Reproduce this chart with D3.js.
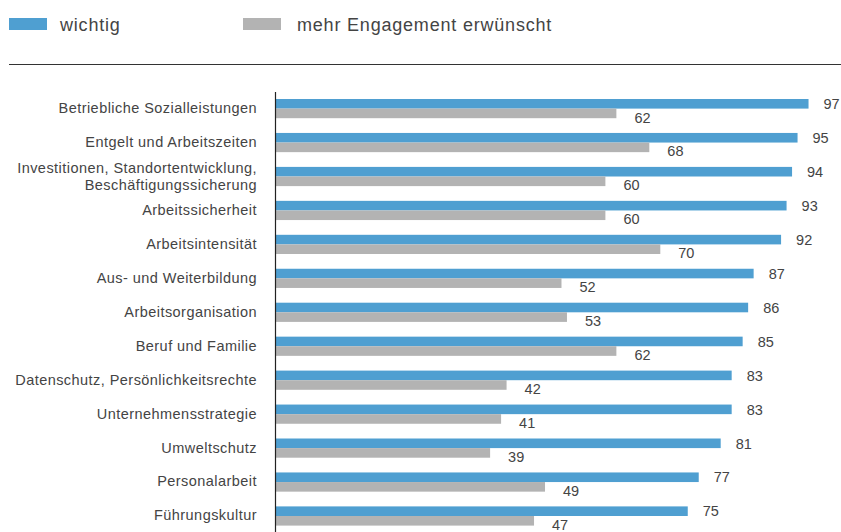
<!DOCTYPE html>
<html>
<head>
<meta charset="utf-8">
<script src="https://cdn.jsdelivr.net/npm/d3@7"></script>
<style>
  body { margin: 0; background: #fff; }
  svg text { font-family: "Liberation Sans", Arial, sans-serif; fill: #444; }
</style>
</head>
<body>
<div id="chart"></div>
<script>
const categories = [
    ["Betriebliche Sozialleistungen"],
    ["Entgelt und Arbeitszeiten"],
    ["Investitionen, Standortentwicklung,", "Beschäftigungssicherung"],
    ["Arbeitssicherheit"],
    ["Arbeitsintensität"],
    ["Aus- und Weiterbildung"],
    ["Arbeitsorganisation"],
    ["Beruf und Familie"],
    ["Datenschutz, Persönlichkeitsrechte"],
    ["Unternehmensstrategie"],
    ["Umweltschutz"],
    ["Personalarbeit"],
    ["Führungskultur"]
];
const wichtig = [97, 95, 94, 93, 92, 87, 86, 85, 83, 83, 81, 77, 75];
const engagement = [62, 68, 60, 60, 70, 52, 53, 62, 42, 41, 39, 49, 47];
const seriesNames = ["wichtig", "mehr Engagement erwünscht"];
const colors = ["#4f9fd1", "#b3b3b3"];

const width = 841, height = 532;

const svg = d3.select("#chart").append("svg")
    .attr("width", width)
    .attr("height", height);

const rows = categories.map((c, i) => ({ label: c, key: c.join(" "), a: wichtig[i], b: engagement[i] }));

const x = d3.scaleLinear().domain([0, 100]).range([276, 276 + 549]);
const y = d3.scaleBand().domain(rows.map(d => d.key)).range([92, 92 + 13 * 33.95]);
const barH = 9.6;

// legend
const legendX = [9, 243], legendTextX = [60, 297];
seriesNames.forEach((name, i) => {
    svg.append("rect")
        .attr("x", legendX[i]).attr("y", 18)
        .attr("width", 38).attr("height", 12)
        .attr("fill", colors[i]);
    svg.append("text")
        .attr("x", legendTextX[i]).attr("y", 30.5)
        .style("font-size", "18px")
        .style("letter-spacing", "0.8px")
        .text(name);
});

// rule under legend
svg.append("line")
    .attr("x1", 9).attr("x2", 841)
    .attr("y1", 64.5).attr("y2", 64.5)
    .attr("stroke", "#333").attr("stroke-width", 1.2);

const g = svg.selectAll(".row").data(rows).enter().append("g")
    .attr("class", "row")
    .attr("transform", d => `translate(0,${y(d.key)})`);

g.append("rect")
    .attr("x", x(0)).attr("y", 7)
    .attr("width", d => x(d.a) - x(0)).attr("height", barH)
    .attr("fill", colors[0]);

g.append("rect")
    .attr("x", x(0)).attr("y", 7 + barH)
    .attr("width", d => x(d.b) - x(0)).attr("height", barH)
    .attr("fill", colors[1]);

// value labels
g.append("text")
    .attr("x", d => x(d.a) + 15).attr("y", 17)
    .style("font-size", "14.5px")
    .text(d => d.a);

g.append("text")
    .attr("x", d => x(d.b) + 18).attr("y", 30.5)
    .style("font-size", "14.5px")
    .text(d => d.b);

// category labels
g.each(function (d) {
    const t = d3.select(this).append("text")
        .attr("text-anchor", "end")
        .style("font-size", "14.5px")
        .style("letter-spacing", "0.45px");
    const n = d.label.length;
    d.label.forEach((line, j) => {
        t.append("tspan")
            .attr("x", 257)
            .attr("y", n === 1 ? 21 : 13 + j * 17)
            .text(line);
    });
});

// axis line
svg.append("line")
    .attr("x1", 275.5).attr("x2", 275.5)
    .attr("y1", 92).attr("y2", height)
    .attr("stroke", "#222").attr("stroke-width", 1.2);
</script>
</body>
</html>
